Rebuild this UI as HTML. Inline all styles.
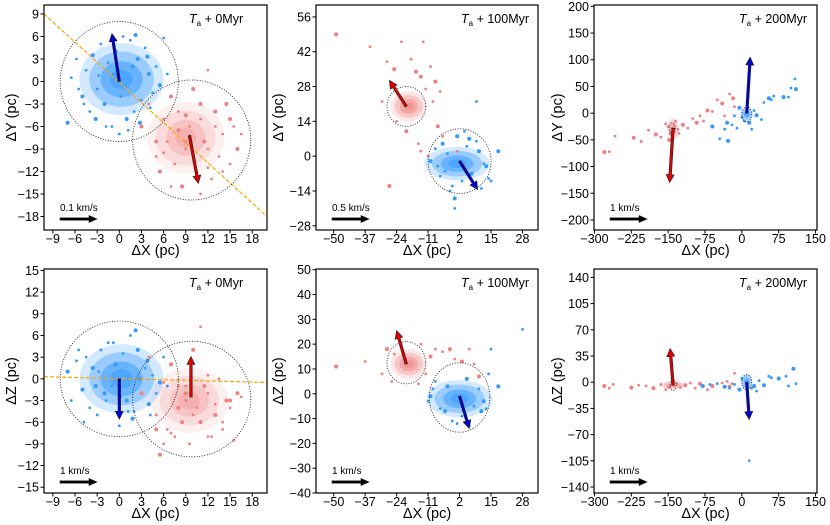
<!DOCTYPE html>
<html><head><meta charset="utf-8">
<style>
html,body{margin:0;padding:0;background:#fff;}
svg{display:block;font-family:"Liberation Sans","DejaVu Sans",sans-serif;}
</style></head>
<body>
<svg id="fig" width="830" height="525" viewBox="0 0 830 525" xmlns="http://www.w3.org/2000/svg"></svg>
<script>
// ---------- data ----------
const p1BlueX=[-7,-6.5,-5.8,-5,-4.5,-4,-3.6,-3,-2.5,-2,-1.5,-1,-0.5,0,0.5,1,1.5,2,2.5,3,3.5,4,4.5,5,5.5,6,-4.8,-3.2,-1.8,1.2,2.8,4.2,-2.8,3.8,0.2,-0.8,1.8,-5.5,6.5,2.2];
const p1BlueY=[-5.5,0.5,3,-2,1.5,-4,3.5,-1,5,-3,2.5,-6,4,-7,6,-5,5.5,-4,3,-2.5,4.5,1,-1.5,2,-0.5,5.8,-3,-5,-6,-6.5,-5.5,-3.5,0.8,3.3,-2,1,2,-1,1,6.2];
const p1RedX=[3,4,5,5.5,6,6.5,7,7.5,8,8.5,9,9.5,10,10.5,11,11.5,12,12.5,13,13.5,14,14.5,15,15.5,16,16.5,7,8,9,10,11,12,13,5,6,14,15,11,12,9];
const p1RedY=[-6,-3,-10,-12,-5,-8,-2,-11,-4,-14,-9,-6,-1,-12,-5,-8,1.5,-13,-4,-10,-7,-3,-11,-6,-9,-7,-14,-6.5,-8,-10,-3,-11.5,-6,-8,-9.5,-12,-5,-15,-9,-4.5];
const p2BlueX=[-10,-8,-6,-5,-3,-1,1,3,5,7,9,11,13,14,-4,0,4,8,10,12,-2,6,-7,15,18,0,9];
const p2BlueY=[-2,3,-8,5,1,-12,8,-10,4,-7,6,-13,-4,-9,-6,-17,10,-11,2,-3,-14,7,-4,-10,2,-21,22];
const p2RedX=[-49,-35,-28,-25,-22,-18,-16,-13,-10,-8,-6,-30,-14,-12,-9,-20,-24,-5,-27,-11,-15,-7,-14,1];
const p2RedY=[49,44,38,35,46,39,34,46,36,30,26,22,32,27,22,10,14,8,-12,0,5,12,2,2];
const p3RedX=[-280,-270,-258,-220,-205,-190,-175,-165,-155,-148,-135,-128,-120,-110,-100,-92,-85,-78,-70,-60,-50,-40,-35,-25,-18,-15,-130,-145,-150];
const p3RedY=[-73,-72,-43,-46,-53,-32,-40,-45,-20,-50,-15,-38,-22,-28,-10,-18,-5,-15,5,3,25,18,-5,36,28,12,-30,-38,-25];
const p3BlueX=[-60,-45,-35,-28,-20,-10,-5,0,5,15,20,25,30,40,45,55,60,65,85,95,100,110,108,-15,-30];
const p3BlueY=[-25,-48,-30,-52,-22,-28,10,-8,-15,-18,-30,5,-4,-12,20,28,25,32,30,30,47,45,64,-5,-18];
const p4BlueX=[-7,-6.5,-5.8,-5,-4.5,-4,-3.6,-3,-2.5,-2,-1.5,-1,-0.5,0,0.5,1,1.5,2,2.5,3,3.5,4,4.5,5,5.5,6,-4.8,-3.2,-1.8,1.2,2.8,4.2,-2.8,3.8,0.2,-0.8,1.8,-5.5,6.5,2.2];
const p4BlueZ=[1,-3,2.5,-1.5,3,-4,1.5,-5,4,-2,5,-1,2,-6.5,3.5,-3,6,-4.5,4,-2,1.5,-3.5,0.5,-2,-0.5,3,-6,-1,-3,-4.5,0,-5,1,2.5,-2.5,5,-5.5,4,-1,6.7];
const p4RedX=[3,4,5,5.5,6,6.5,7,7.5,8,8.5,9,9.5,10,10.5,11,11.5,12,12.5,13,13.5,14,14.5,15,15.5,16,16.5,7,8,9,10,11,12,13,5,6,14,15,11,12,9];
const p4RedZ=[-2,3,-5,-10.5,-0.5,-7,2,-8,-1,-6,-3,-9,4,-4,-6,-1,-2,-8,-5,0,-7,-3,-4,-8.5,-2,-2.5,-7.5,-4,-1,-5,-6,0.5,-3.5,-7,-9,-6,-3,7.2,-8,-2];
const p5RedX=[-49,-37,-30,-28,-25,-14,-10,-8,-5,-2,-12,0,3,6,8,10,-26,-15];
const p5RedZ=[11,13,8,18,16,20,15,18,17,18,8,14,13,18,12,7,5,4];
const p5BlueX=[-10,-8,-6,-3,-1,3,5,8,10,12,14,15,18,28,-11,-4,1,6,11,13,-9];
const p5BlueZ=[-1,5,-6,3,-11,-9,6,-5,2,-3,8,18,3,26,-3,-7,-12,-13,-7,-6,2];
const p6RedX=[-280,-270,-262,-225,-210,-195,-180,-165,-155,-148,-132,-125,-115,-105,-95,-85,-78,-70,-60,-40,-30,-25,-20,-15];
const p6RedZ=[-5,-8,-3,-7,-4,-5,-8,-3,-10,-6,-2,-7,-4,-1,-8,-2,-5,-10,-5,-1,1,-6,-2,12];
const p6BlueX=[-80,-65,-50,-35,-25,-15,-5,0,20,25,30,35,45,55,60,75,90,95,105,110,15];
const p6BlueZ=[-5,-3,-2,-6,-8,-3,-10,5,-8,-5,-12,2,-4,8,6,5,8,-5,18,-2,-105];

const xTicks0=[-9,-6,-3,0,3,6,9,12,15,18];
const xTicks100=[-50,-37,-24,-11,2,15,28];
const xTicks200=[-300,-225,-150,-75,0,75,150];
const yTicksP1=[-18,-15,-12,-9,-6,-3,0,3,6,9];
const yTicksP2=[-28,-14,0,14,28,42,56];
const yTicksP3=[-200,-150,-100,-50,0,50,100,150,200];
const yTicksP4=[-15,-12,-9,-6,-3,0,3,6,9,12,15];
const yTicksP5=[-40,-30,-20,-10,0,10,20,30,40,50];
const yTicksP6=[-140,-105,-70,-35,0,35,70,105,140];

const BLUE='#3399ff', RED='#f08080';
const NS='http://www.w3.org/2000/svg';
const svg=document.getElementById('fig');
function el(tag,attrs,parent){const e=document.createElementNS(NS,tag);for(const k in attrs)e.setAttribute(k,attrs[k]);(parent||svg).appendChild(e);return e;}

const panels=[
 {id:'p1',box:[44,5,267,230],xl:[-10.2,20],yl:[-19.8,10.2],xt:xTicks0,yt:yTicksP1,ylab:'ΔY (pc)',labx:12,title:'0Myr',scale:'0.1 km/s',
  cores:[[BLUE,0.3,0.3,3.8,3.2,1],[RED,9,-7.5,3.5,3.2,0.55]],
  pts:[[BLUE,p1BlueX,p1BlueY,'blue-member'],[RED,p1RedX,p1RedY,'red-member']],
  circ:[[0,0,8,8],[9.8,-7.8,8,8]],line:[-10.2,9,20,-18],
  arr:[['#0000cc',0,0,-1,6.4],['#dd0000',9.5,-7.2,10.7,-13.6]]},
 {id:'p2',box:[316,5,538,230],xl:[-57.3,34.4],yl:[-29.7,60.8],xt:xTicks100,yt:yTicksP2,ylab:'ΔY (pc)',labx:279,title:'100Myr',scale:'0.5 km/s',
  cores:[[BLUE,1,-3,9,4.5,1],[RED,-19,20,5,4,0.9]],
  pts:[[RED,p2RedX,p2RedY,'red-member'],[BLUE,p2BlueX,p2BlueY,'blue-member']],
  circ:[[-20,20,8,8],[2,-2,13,13]],
  arr:[['#dd0000',-20,20,-27,30.5],['#0000cc',2,-2,9.5,-13.5]]},
 {id:'p3',box:[594,5,817,230],xl:[-301,153],yl:[-218.8,202.5],xt:xTicks200,yt:yTicksP3,ylab:'ΔY (pc)',labx:558,title:'200Myr',scale:'1 km/s',
  cores:[[RED,-140,-30,8,14,0.9],[BLUE,10,-2,9,9,1]],
  pts:[[RED,p3RedX,p3RedY,'red-member'],[BLUE,p3BlueX,p3BlueY,'blue-member']],
  circ:[[-142,-28,6,10],[10,-2,10,14]],
  arr:[['#dd0000',-140,-28,-147,-130],['#0000cc',10,0,17,105]]},
 {id:'p4',box:[44,269,267,493],xl:[-10.2,20],yl:[-15.8,15.2],xt:xTicks0,yt:yTicksP4,ylab:'ΔZ (pc)',labx:12,title:'0Myr',scale:'1 km/s',
  cores:[[BLUE,0.3,0,3.8,3.2,1],[RED,9.5,-3,3.5,3,0.55]],
  pts:[[BLUE,p4BlueX,p4BlueZ,'blue-member'],[RED,p4RedX,p4RedZ,'red-member']],
  circ:[[0,0,8,8],[9.8,-2.8,8,8]],line:[-10.2,0.3,20,-0.5],
  arr:[['#0000cc',0,0,0,-5.6],['#dd0000',9.7,-2.5,9.7,3.1]]},
 {id:'p5',box:[316,269,538,493],xl:[-57.3,34.4],yl:[-40,50.3],xt:xTicks100,yt:yTicksP5,ylab:'ΔZ (pc)',labx:279,title:'100Myr',scale:'1 km/s',
  cores:[[RED,-19,12,5,4,0.9],[BLUE,2,-2,9,5,1]],
  pts:[[RED,p5RedX,p5RedZ,'red-member'],[BLUE,p5BlueX,p5BlueZ,'blue-member']],
  circ:[[-20,12.5,8,8.5],[2,-1.5,12.5,14]],
  arr:[['#dd0000',-20,12,-24,25.5],['#0000cc',2,-1,6,-14]]},
 {id:'p6',box:[594,269,817,493],xl:[-301,153],yl:[-148,151.2],xt:xTicks200,yt:yTicksP6,ylab:'ΔZ (pc)',labx:558,title:'200Myr',scale:'1 km/s',
  cores:[[RED,-140,-4,18,4,0.8],[BLUE,10,0,8,8,1]],
  pts:[[RED,p6RedX,p6RedZ,'red-member'],[BLUE,p6BlueX,p6BlueZ,'blue-member']],
  circ:[[-140,-4,6,7],[10,0,10,10]],
  arr:[['#dd0000',-140,-4,-146,45],['#0000cc',10,0,15,-50]]}
];

function drawArrow(g,x1,y1,x2,y2,color,w,hl,hw,name){
  const dx=x2-x1,dy=y2-y1,L=Math.hypot(dx,dy),ux=dx/L,uy=dy/L,nx=-uy,ny=ux;
  const bx=x2-ux*hl,by=y2-uy*hl;
  const p=[[x1+nx*w/2,y1+ny*w/2],[bx+nx*w/2,by+ny*w/2],[bx+nx*hw,by+ny*hw],[x2,y2],[bx-nx*hw,by-ny*hw],[bx-nx*w/2,by-ny*w/2],[x1-nx*w/2,y1-ny*w/2]];
  const a=el('polygon',{points:p.map(q=>q.join(',')).join(' '),fill:color,stroke:'#222','stroke-width':0.6},g);
  
  
}

panels.forEach(P=>{
  const [l,t,r,b]=P.box;
  const sx=v=>l+(v-P.xl[0])/(P.xl[1]-P.xl[0])*(r-l);
  const sy=v=>b-(v-P.yl[0])/(P.yl[1]-P.yl[0])*(b-t);
  const g=el('g',{});
  
  
  const cid='clip-'+P.id;
  const cp=el('clipPath',{id:cid},g);el('rect',{x:l,y:t,width:r-l,height:b-t},cp);
  const inner=el('g',{'clip-path':'url(#'+cid+')'},g);
  
  
  // cores
  P.cores.forEach(c=>{
    const cx=sx(c[1]),cy=sy(c[2]),rx=Math.abs(sx(c[1]+c[3])-cx),ry=Math.abs(sy(c[2]+c[4])-cy);
    [[1.5,0.22],[1.15,0.35],[0.75,0.5],[0.4,0.5]].forEach(s=>{
      const e=el('ellipse',{cx:cx,cy:cy,rx:rx*s[0],ry:ry*s[0],fill:c[0],opacity:s[1]*c[5]},inner);
      
      
    });
  });
  // points
  P.pts.forEach(s=>{
    s[1].forEach((xv,i)=>{
      const c=el('circle',{cx:sx(xv),cy:sy(s[2][i]),r:(i%3===0?2.0:1.4),fill:s[0]},inner);
      
      
    });
  });
  if(P.line){
    const ln=el('line',{x1:sx(P.line[0]),y1:sy(P.line[1]),x2:sx(P.line[2]),y2:sy(P.line[3]),stroke:'#ffa500','stroke-width':1.2,'stroke-dasharray':'4,2'},inner);
    
    
  }
  P.circ.forEach(c=>{
    const cx=sx(c[0]),cy=sy(c[1]);
    const e=el('ellipse',{cx:cx,cy:cy,rx:Math.abs(sx(c[0]+c[2])-cx),ry:Math.abs(sy(c[1]+c[3])-cy),fill:'none',stroke:'#222','stroke-width':0.9,'stroke-dasharray':'1,1.6'},inner);
    
    
  });
  P.arr.forEach(a=>drawArrow(inner,sx(a[1]),sy(a[2]),sx(a[3]),sy(a[4]),a[0],2.6,8,4,'velocity-arrow'));
  // scale arrow
  drawArrow(g,l+16,b-11,l+53,b-11,'#000',2.4,8,3.5,'scale-arrow');
  const st=el('text',{x:l+16,y:b-19,'font-size':10,fill:'#000'},g);st.textContent=P.scale;
  
  
  // title
  const tt=el('text',{x:l+145,y:t+18,'font-size':12.5,fill:'#000'},g);
  
  
  const t1=el('tspan',{'font-style':'italic'},tt);t1.textContent='T';
  const t2=el('tspan',{'font-size':8,dy:3},tt);t2.textContent='a';
  const t3=el('tspan',{dy:-3},tt);t3.textContent=' + '+P.title;
  // box
  const bx=el('rect',{x:l,y:t,width:r-l,height:b-t,fill:'none',stroke:'#000','stroke-width':1.2},g);
  
  
  // ticks
  P.xt.forEach(v=>{
    const x=sx(v);
    el('line',{x1:x,y1:b,x2:x,y2:b+3.5,stroke:'#000','stroke-width':1},g);
    const tx=el('text',{x:x,y:b+13,'font-size':12.5,'text-anchor':'middle'},g);
    tx.textContent=(v<0?'\u2212'+(-v):String(v));
    
    
  });
  P.yt.forEach(v=>{
    const y=sy(v);
    el('line',{x1:l-3.5,y1:y,x2:l,y2:y,stroke:'#000','stroke-width':1},g);
    const ty=el('text',{x:l-5,y:y+4.5,'font-size':12.5,'text-anchor':'end'},g);
    ty.textContent=(v<0?'\u2212'+(-v):String(v));
    
    
  });
  const xl=el('text',{x:(l+r)/2,y:b+25,'font-size':14.5,'text-anchor':'middle'},g);xl.textContent='ΔX (pc)';
  
  
  const cy=(t+b)/2;
  const yl=el('text',{x:P.labx,y:cy,'font-size':14.5,'text-anchor':'middle','dominant-baseline':'central',transform:'rotate(-90 '+P.labx+' '+cy+')'},g);yl.textContent=P.ylab;
  
  
});
</script>
</body></html>
